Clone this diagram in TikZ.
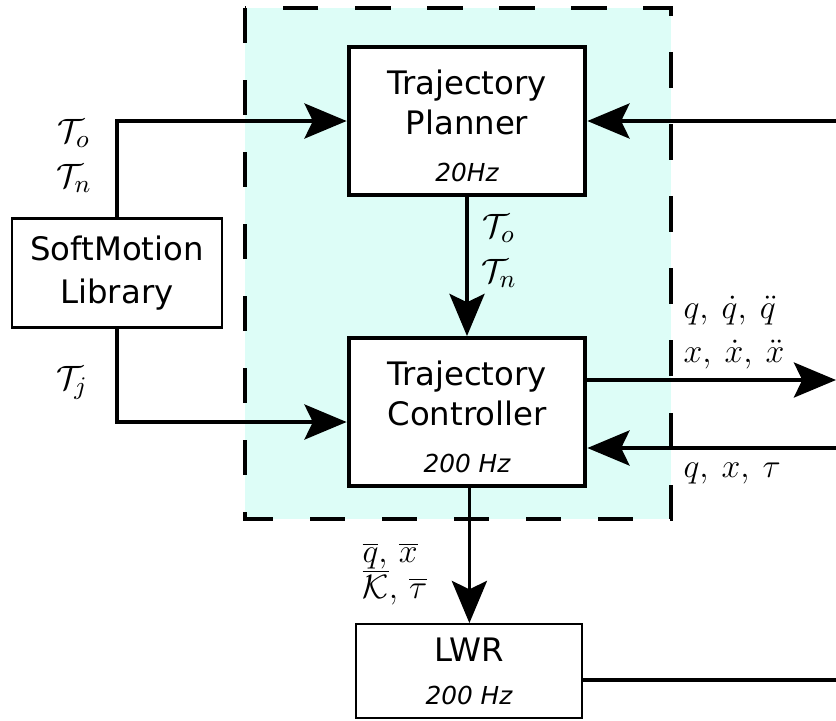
\documentclass[tikz,border=0pt]{standalone}
\usepackage{fontspec}
\setmainfont{DejaVu Sans}
\usetikzlibrary{arrows.meta}
\definecolor{zonacian}{RGB}{221,253,247}
\newcommand{\freq}[1]{{\fontsize{8.8}{10}\selectfont\itshape #1}}
\tikzset{
  bloque/.style={draw, fill=white, line width=1.4pt, align=center,
    minimum width=2.96cm, minimum height=1.85cm, inner sep=0pt,
    font=\fontsize{11.5}{14.2}\selectfont},
  caja/.style={draw, fill=white, line width=0.8pt, align=center,
    inner sep=0pt, font=\fontsize{11.5}{15.3}\selectfont},
  flecha/.style={line width=1.1pt, -{Stealth[length=15pt, width=12.5pt, inset=3pt]}},
  linea/.style={line width=1.1pt},
  etiq/.style={font=\fontsize{12.5}{15}\selectfont, inner sep=0pt}
}
\begin{document}
\begin{tikzpicture}[x=0.0125cm, y=-0.0125cm]
    \useasboundingbox (0,0) rectangle (836,720);
    % Zona de control
    \filldraw[fill=zonacian, line width=1.4pt, dash pattern=on 0.44cm off 0.46cm]
        (245,8) rectangle (671,519);
    % Bloques
    \node[bloque] (planner) at (467,121) {\rule{0pt}{12pt}Trajectory\\Planner\\[2.5pt]\freq{20Hz}};
    \node[bloque] (ctrl) at (467,412) {\rule{0pt}{12pt}Trajectory\\Controller\\[2.5pt]\freq{200 Hz}};
    \node[caja, minimum width=2.62cm, minimum height=1.36cm] (soft) at (117,273) {SoftMotion\\Library};
    \node[caja, minimum width=2.82cm, minimum height=1.17cm] (lwr) at (469,671) {LWR\\\freq{200 Hz}};
    % Extremos libres
    \coordinate (inP) at (836,121);
    \coordinate (outC) at (836,380);
    \coordinate (inC) at (836,448);
    \coordinate (outL) at (836,680);
    % Conexiones
    \draw[flecha] (soft.north) |- (planner.west);
    \draw[flecha] (soft.south) |- ([yshift=-0.125cm]ctrl.west);
    \draw[flecha] (planner) -- (ctrl);
    \draw[flecha] (inP) -- (planner.east);
    \draw[flecha] (ctrl.east |- outC) -- (outC);
    \draw[flecha] (inC) -- (ctrl.east |- inC);
    \draw[flecha] ([xshift=0.03cm]ctrl.south) -- ([xshift=0.03cm]ctrl.south |- lwr.north);
    \draw[linea] (lwr.east |- outL) -- (outL);
    % Etiquetas
    \node[etiq] (tso) at (74,133) {$\mathcal{T}_o$};
    \node[etiq] (tsn) at (74,178) {$\mathcal{T}_n$};
    \node[etiq] (tsj) at (72,383) {$\mathcal{T}_j$};
    \node[etiq] (tpo) at (499,228) {$\mathcal{T}_o$};
    \node[etiq] (tpn) at (499,273) {$\mathcal{T}_n$};
    \node[etiq, anchor=west] (qout) at (683,311) {$q,\:\dot{q},\:\ddot{q}$};
    \node[etiq, anchor=west] (xout) at (683,355) {$x,\:\dot{x},\:\ddot{x}$};
    \node[etiq, anchor=west] (qin) at (683,474) {$q,\:x,\:\tau$};
    \node[etiq, anchor=west] (refa) at (362,556) {$\overline{q},\,\overline{x}$};
    \node[etiq, anchor=west] (refb) at (362,587) {$\overline{\mathcal{K}},\,\overline{\tau}$};
\end{tikzpicture}
\end{document}
